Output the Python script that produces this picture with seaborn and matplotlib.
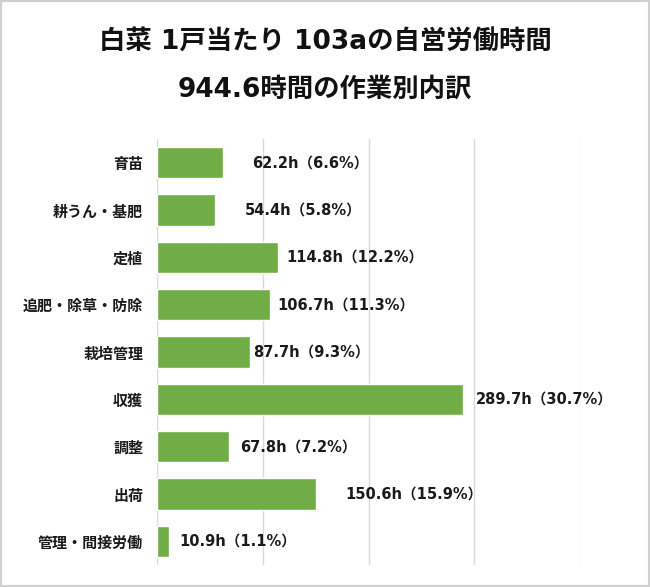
import matplotlib
matplotlib.use("Agg")
import matplotlib.pyplot as plt
import seaborn as sns
import pandas as pd
from matplotlib.patches import Rectangle

categories = ["育苗", "耕うん・基肥", "定植", "追肥・除草・防除", "栽培管理",
              "収獲", "調整", "出荷", "管理・間接労働"]
hours = [62.2, 54.4, 114.8, 106.7, 87.7, 289.7, 67.8, 150.6, 10.9]
percents = [6.6, 5.8, 12.2, 11.3, 9.3, 30.7, 7.2, 15.9, 1.1]
title_lines = ["白菜 1戸当たり 103aの自営労働時間", "944.6時間の作業別内訳"]
grid_ticks = [0, 100, 200, 300, 400]

label_dx = [29, 30, 8, 7, 3, 13, 11, 29, 11]  # pixel offsets of value labels

sns.set_theme(style="white")
plt.rcParams['font.family'] = ['DejaVu Sans', 'Noto Sans CJK JP']
cjk = ['Noto Sans CJK JP', 'DejaVu Sans']

df = pd.DataFrame({"cat": categories, "h": hours})

fig = plt.figure(figsize=(6.5, 5.87), dpi=100)
ax = fig.add_axes([157/650, 1-565/587, (580-157)/650, (565-139)/587])

sns.barplot(data=df, y="cat", x="h", orient="h", color="#70AD47",
            width=0.66, ax=ax, saturation=1)

ax.set_xlim(0, 400)
ax.set_ylim(8.5, -0.5)
ax.set_xticks(grid_ticks)
ax.set_xticklabels([])
ax.set_yticks(range(len(categories)))
ax.set_yticklabels(categories, family=cjk, fontsize=10.8,
                   fontweight="bold", color="#1a1a1a")
ax.xaxis.grid(True, color="#D9D9D9", linewidth=1)
ax.set_axisbelow(True)
for s in ax.spines.values():
    s.set_visible(False)
ax.tick_params(axis="both", length=0)
ax.tick_params(axis="y", pad=10)
ax.set_xlabel("")
ax.set_ylabel("")

for i, (h, p) in enumerate(zip(hours, percents)):
    ax.annotate(f"{h}h（{p}%）", xy=(h, i), xytext=(label_dx[i], 0),
                textcoords="offset pixels", ha="left", va="center",
                fontsize=10.5, fontweight="bold", color="#1a1a1a")

fig.text(0.5, 1-42/587, title_lines[0], ha="center", va="center",
         fontsize=19, fontweight="bold", color="#111111")
fig.text(0.5, 1-90/587, title_lines[1], ha="center", va="center",
         fontsize=19, fontweight="bold", color="#111111")

fig.patches.append(Rectangle((0.001, 0.001), 0.997, 0.997, transform=fig.transFigure,
                             fill=False, edgecolor="#D0D0D0", linewidth=1.5))

fig.savefig("out.png", dpi=100)
